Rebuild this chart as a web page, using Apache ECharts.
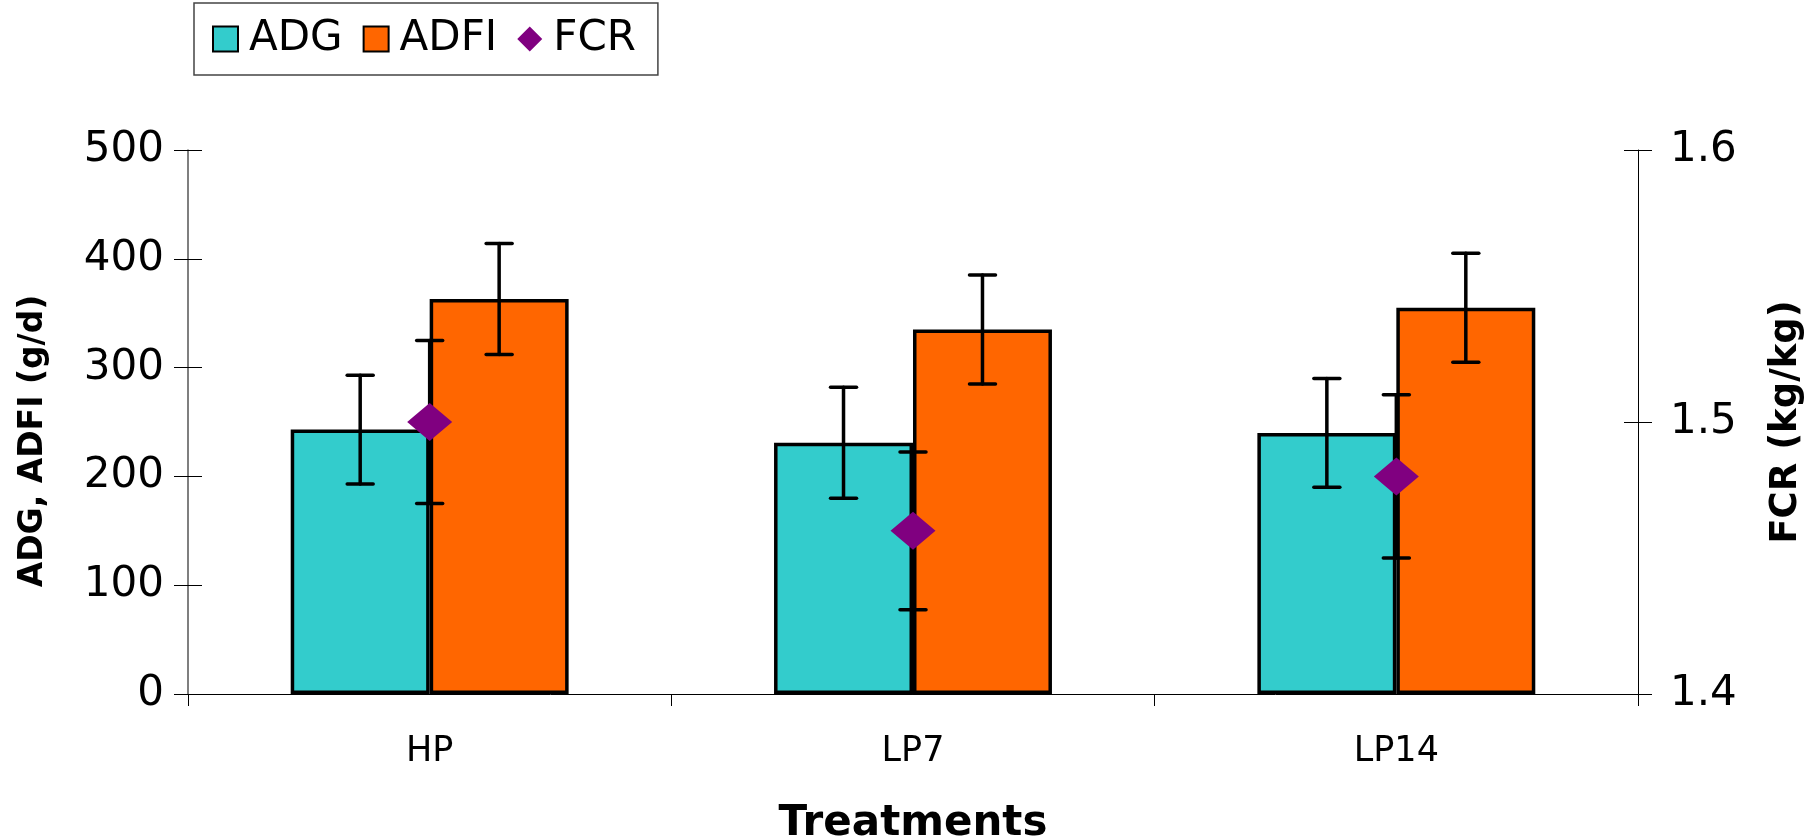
<!DOCTYPE html>
<html>
<head>
<meta charset="utf-8">
<title>ADG, ADFI and FCR by treatment</title>
<script src="https://cdn.jsdelivr.net/npm/echarts@6/dist/echarts.min.js"></script>
<style>
  html, body { margin: 0; padding: 0; background: #fff; }
  #chart { width: 1809px; height: 839px; }
</style>
</head>
<body>
<div id="chart"></div>
<script>
// Treatments and their growth performance (mean ± SD)
const categories = ['HP', 'LP7', 'LP14'];
const adg = [243, 231, 240];
const adgErr = [50, 51, 50];
const adfi = [363, 335, 355];
const adfiErr = [51, 50, 50];
const fcr = [1.50, 1.46, 1.48];
const fcrErr = [0.030, 0.029, 0.030];

const FONT = '"DejaVu Sans", Verdana, sans-serif';
const BAR_GAP_CATEGORY = 0.425;                 // fraction of band left empty
const BAR_SHIFT = (1 - BAR_GAP_CATEGORY) / 4;   // centre of each bar relative to band centre

function errorBars(shift) {
  return function (params, api) {
    const i = api.value(0);
    const mean = api.value(1);
    const err = api.value(2);
    const hi = api.coord([i, mean + err]);
    const lo = api.coord([i, mean - err]);
    const band = api.size([1, 0])[0];
    const x = hi[0] + shift * band;
    const cap = 13;
    const style = { stroke: '#000', lineWidth: 3.5, lineCap: 'round' };
    return {
      type: 'group',
      children: [
        { type: 'line', shape: { x1: x, y1: hi[1], x2: x, y2: lo[1] }, style: style },
        { type: 'line', shape: { x1: x - cap, y1: hi[1], x2: x + cap, y2: hi[1] }, style: style },
        { type: 'line', shape: { x1: x - cap, y1: lo[1], x2: x + cap, y2: lo[1] }, style: style }
      ]
    };
  };
}

const withErr = (vals, errs) => vals.map((v, i) => [i, v, errs[i]]);

const leftAxisBase = {
  type: 'value', position: 'left', min: 0, max: 500, interval: 100,
  splitLine: { show: false }
};
const rightAxisBase = {
  type: 'value', position: 'right', min: 1.4, max: 1.6, interval: 0.1,
  splitLine: { show: false }
};

const chart = echarts.init(document.getElementById('chart'), null, { renderer: 'canvas' });
chart.setOption({
  animation: false,
  backgroundColor: '#fff',
  textStyle: { fontFamily: FONT },
  legend: {
    data: [
      { name: 'ADG', icon: 'rect' },
      { name: 'ADFI', icon: 'rect' },
      { name: 'FCR', icon: 'diamond' }
    ],
    left: 194, top: 3,
    padding: [15, 22, 15, 18],
    itemWidth: 25, itemHeight: 25, itemGap: 20,
    borderColor: '#444', borderWidth: 1.5,
    textStyle: { fontFamily: FONT, fontSize: 42, color: '#000', padding: [0, 0, 0, 6] }
  },
  grid: { left: 188, right: 171, top: 150, bottom: 145, containLabel: false, outerBoundsMode: 'none' },
  xAxis: {
    type: 'category',
    data: categories,
    name: 'Treatments',
    nameLocation: 'middle',
    nameGap: 109,
    nameTextStyle: { fontFamily: FONT, fontSize: 42, fontWeight: 'bold', color: '#000' },
    axisLine: { lineStyle: { color: '#000', width: 1 } },
    axisTick: { show: true, interval: 0, length: 12, lineStyle: { color: '#000' } },
    axisLabel: { fontFamily: FONT, fontSize: 35, color: '#000', margin: 40 }
  },
  yAxis: [
    Object.assign({}, leftAxisBase, {
      name: 'ADG, ADFI (g/d)',
      nameLocation: 'middle',
      nameGap: 138,
      nameTextStyle: { fontFamily: FONT, fontSize: 33, fontWeight: 'bold', color: '#000',
                       padding: [0, 38, 0, 0] },
      axisLine: { show: true, lineStyle: { color: '#555', width: 1.5 } },
      axisTick: { show: true, length: 14, lineStyle: { color: '#000' } },
      axisLabel: { fontFamily: FONT, fontSize: 42, color: '#000', margin: 24 }
    }),
    Object.assign({}, rightAxisBase, {
      name: 'FCR (kg/kg)',
      nameLocation: 'middle',
      nameGap: 130,
      nameRotate: 90,
      nameTextStyle: { fontFamily: FONT, fontSize: 37, fontWeight: 'bold', color: '#000' },
      axisLine: { show: true, lineStyle: { color: '#000', width: 1 } },
      axisTick: { show: true, length: 14, lineStyle: { color: '#000' } },
      axisLabel: { fontFamily: FONT, fontSize: 42, color: '#000', margin: 32,
                   formatter: v => v.toFixed(1) }
    }),
    // inner halves of the crossing tick marks
    Object.assign({}, leftAxisBase, {
      axisLine: { show: false }, axisLabel: { show: false },
      axisTick: { show: true, inside: true, length: 14, lineStyle: { color: '#000' } }
    }),
    Object.assign({}, rightAxisBase, {
      axisLine: { show: false }, axisLabel: { show: false },
      axisTick: { show: true, inside: true, length: 14, lineStyle: { color: '#000' } }
    })
  ],
  series: [
    {
      name: 'ADG', type: 'bar', yAxisIndex: 0, data: adg,
      barGap: '0%', barCategoryGap: (BAR_GAP_CATEGORY * 100) + '%',
      itemStyle: { color: '#33CCCC', borderColor: '#000', borderWidth: 3.5 }
    },
    {
      name: 'ADFI', type: 'bar', yAxisIndex: 0, data: adfi,
      itemStyle: { color: '#FF6600', borderColor: '#000', borderWidth: 3.5 }
    },
    {
      name: 'ADG error', type: 'custom', yAxisIndex: 0, z: 5,
      renderItem: errorBars(-BAR_SHIFT), data: withErr(adg, adgErr),
      encode: { x: 0, y: 1 }
    },
    {
      name: 'ADFI error', type: 'custom', yAxisIndex: 0, z: 5,
      renderItem: errorBars(BAR_SHIFT), data: withErr(adfi, adfiErr),
      encode: { x: 0, y: 1 }
    },
    {
      name: 'FCR error', type: 'custom', yAxisIndex: 1, z: 6,
      renderItem: errorBars(0), data: withErr(fcr, fcrErr),
      encode: { x: 0, y: 1 }
    },
    {
      name: 'FCR', type: 'scatter', yAxisIndex: 1, z: 8,
      data: fcr,
      symbol: 'diamond', symbolSize: [45, 38],
      itemStyle: { color: '#800080', opacity: 1 }
    }
  ]
});
</script>
</body>
</html>
